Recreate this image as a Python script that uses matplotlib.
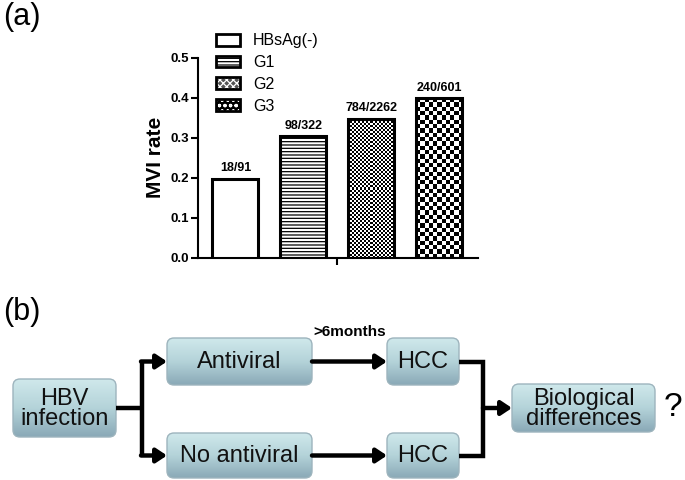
import numpy as np
import matplotlib
matplotlib.use("Agg")
import matplotlib.pyplot as plt
from matplotlib.patches import Patch, FancyBboxPatch
from matplotlib.legend_handler import HandlerTuple
from matplotlib.colors import LinearSegmentedColormap

plt.rcParams['font.family'] = ['Liberation Sans', 'DejaVu Sans']
plt.rcParams['hatch.linewidth'] = 0.9

# (a) data
groups = ['HBsAg(-)', 'G1', 'G2', 'G3']
mvi_rate = [0.198, 0.304, 0.347, 0.399]
counts = ['18/91', '98/322', '784/2262', '240/601']
y_ticks = [0.0, 0.1, 0.2, 0.3, 0.4, 0.5]

# (b) flow chart nodes and links
nodes = {
    'hbv': ('HBV\ninfection', (13, 379, 116, 437)),
    'av': ('Antiviral', (167, 338, 312, 385)),
    'nav': ('No antiviral', (167, 433, 312, 478)),
    'hcc1': ('HCC', (387, 338, 459, 385)),
    'hcc2': ('HCC', (387, 433, 459, 478)),
    'bio': ('Biological\ndifferences', (512, 384, 655, 432)),
}
delay_label = '>6months'

fig = plt.figure(figsize=(6.85, 4.8), dpi=100)

# ---------- panel (a) ----------
ax = fig.add_axes([198 / 685, 1 - 258 / 480, 280 / 685, 200 / 480])
x = np.arange(len(groups))
bars = ax.bar(x, mvi_rate, width=0.68, facecolor='none', edgecolor='black',
              linewidth=2.2, zorder=3)
bars[1].set_hatch('-----')
bars[0].set_facecolor('white')
ax.set_xlim(-0.55, 3.57)
ax.set_ylim(0, 0.5)


def checker(bar, cell_px):
    x0, y0 = bar.get_x(), bar.get_y()
    w, h = bar.get_width(), bar.get_height()
    (px0, py0), (px1, py1) = ax.transData.transform([(x0, y0), (x0 + w, y0 + h)])
    nx = max(int(round((px1 - px0) / cell_px)), 1)
    ny = max(int(round((py1 - py0) / cell_px)), 1)
    grid = np.add.outer(np.arange(ny), np.arange(nx)) % 2
    im = ax.imshow(grid, cmap='gray', extent=(x0, x0 + w, y0, y0 + h),
                   interpolation='nearest', origin='upper', aspect='auto', zorder=2)
    im.set_clip_path(bar)


checker(bars[2], 2.0)
checker(bars[3], 4.3)
ax.set_xlim(-0.55, 3.57)
ax.set_ylim(0, 0.5)

for xi, v, c in zip(x, mvi_rate, counts):
    ax.text(xi, v + 0.012, c, ha='center', va='bottom', fontsize=9, fontweight='bold')

ax.spines['top'].set_visible(False)
ax.spines['right'].set_visible(False)
ax.spines['left'].set_linewidth(1.5)
ax.spines['bottom'].set_linewidth(1.5)
ax.set_yticks(y_ticks)
ax.set_yticklabels([f'{t:.1f}' for t in y_ticks], fontsize=9.5, fontweight='bold')
ax.set_xticks([1.5])
ax.set_xticklabels([''])
ax.tick_params(direction='out', length=5, width=1.5, pad=1.5)
ax.set_ylabel('MVI rate', fontsize=15, fontweight='bold')
ax.yaxis.set_label_coords(-0.117, 0.505)

h_neg = Patch(facecolor='white', edgecolor='black', linewidth=2)
h_g1 = Patch(facecolor='white', edgecolor='black', linewidth=2, hatch='-----')
h_g2 = (Patch(facecolor='#555555', edgecolor='none'),
        Patch(facecolor='none', edgecolor='white', linewidth=0, hatch='xxxxx'),
        Patch(facecolor='none', edgecolor='black', linewidth=2))
h_g3 = (Patch(facecolor='black', edgecolor='none'),
        Patch(facecolor='none', edgecolor='white', linewidth=0, hatch='ooo'),
        Patch(facecolor='none', edgecolor='black', linewidth=2))
ax.legend([h_neg, h_g1, h_g2, h_g3], groups,
          handler_map={tuple: HandlerTuple(ndivide=1, pad=0)},
          loc='upper left', bbox_to_anchor=(0.04, 1.155), frameon=False,
          fontsize=11.5, handlelength=1.55, handleheight=0.75,
          handletextpad=0.8, labelspacing=0.42, borderaxespad=0)

fig.text(0.005, 0.995, '(a)', fontsize=22, va='top', ha='left')

# ---------- panel (b) ----------
ax2 = fig.add_axes([0, 0, 1, 1], zorder=-1)
ax2.axis('off')
cmap = LinearSegmentedColormap.from_list('box', ['#cfe8eb', '#b4d3d9', '#8aa9b7'])


def grad_box(label, rect, fs=17):
    x0, y0, x1, y1 = rect
    box = FancyBboxPatch((x0, y0), x1 - x0, y1 - y0,
                         boxstyle='round,pad=0,rounding_size=7',
                         fc='none', ec='#9db4bd', lw=1.0, zorder=3)
    ax2.add_patch(box)
    grad = np.linspace(0, 1, 64).reshape(-1, 1)
    im = ax2.imshow(grad, cmap=cmap, extent=(x0, x1, y1, y0), aspect='auto', zorder=2)
    im.set_clip_path(box)
    ax2.text((x0 + x1) / 2, (y0 + y1) / 2 + 1, label, ha='center', va='center',
             fontsize=fs, linespacing=0.85, color='#111111', zorder=4)


for label, rect in nodes.values():
    grad_box(label, rect)

lw = 3.2
arrow = dict(arrowstyle='-|>,head_length=0.45,head_width=0.3', lw=lw, color='black',
             shrinkA=0, shrinkB=0, mutation_scale=14)


def arr(p0, p1):
    ax2.annotate('', xy=p1, xytext=p0, arrowprops=arrow, zorder=5)


def seg(xs, ys):
    ax2.plot(xs, ys, color='black', lw=lw, solid_capstyle='butt',
             solid_joinstyle='miter', zorder=5)


hbv = nodes['hbv'][1]
av = nodes['av'][1]
nav = nodes['nav'][1]
h1 = nodes['hcc1'][1]
h2 = nodes['hcc2'][1]
bio = nodes['bio'][1]
ytop = (av[1] + av[3]) / 2
ybot = (nav[1] + nav[3]) / 2
ymid = (hbv[1] + hbv[3]) / 2
xs1 = 142
seg([hbv[2], xs1], [ymid, ymid])
seg([xs1, xs1], [ytop, ybot])
arr((xs1 - 1, ytop), (av[0], ytop))
arr((xs1 - 1, ybot), (nav[0], ybot))
arr((av[2], ytop), (h1[0], ytop))
arr((nav[2], ybot), (h2[0], ybot))
xs2 = 483
seg([h1[2], xs2, xs2, h2[2]], [ytop, ytop, ybot, ybot])
arr((xs2, (bio[1] + bio[3]) / 2), (bio[0], (bio[1] + bio[3]) / 2))

ax2.text((av[2] + h1[0]) / 2, av[1] - 6, delay_label, ha='center', va='center',
         fontsize=11, fontweight='bold')
ax2.text(bio[2] + 18, (bio[1] + bio[3]) / 2, '?', ha='center', va='center', fontsize=24)
ax2.text(3, 297, '(b)', fontsize=22, va='top', ha='left')

ax2.set_xlim(0, 685)
ax2.set_ylim(480, 0)

fig.savefig('out.png', dpi=100)
